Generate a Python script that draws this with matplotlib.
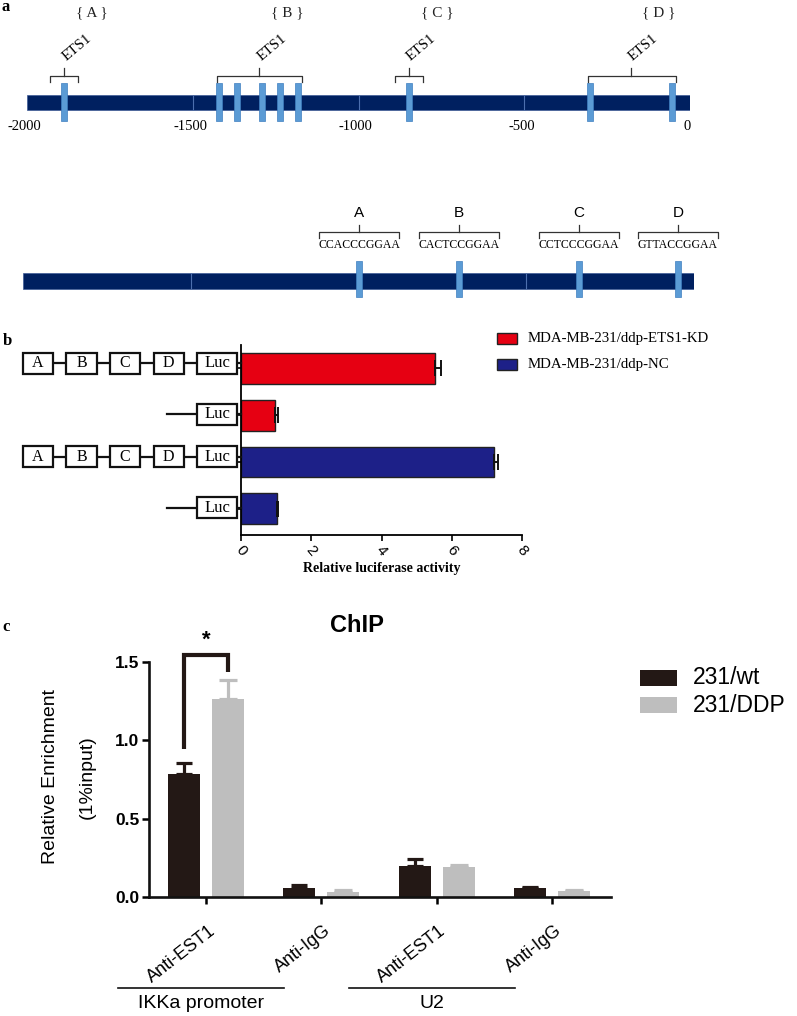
import matplotlib
matplotlib.use('Agg')
import matplotlib.pyplot as plt
import matplotlib.transforms as mtransforms
from matplotlib.patches import Rectangle
import numpy as np

W, H, DPI = 797, 1016, 100
SERIF = ['Liberation Serif', 'DejaVu Serif']
SANS = ['Liberation Sans', 'DejaVu Sans']

# ---------------- data ----------------
# panel a (top map): promoter positions (bp) and ETS1 binding sites
promoter_ticks = [-2000, -1500, -1000, -500, 0]
ets1_regions = ['A', 'B', 'C', 'D']
ets1_sites = {
    'A': [-1888],
    'B': [-1421, -1367, -1291, -1237, -1182],
    'C': [-848],
    'D': [-302, -54],
}
# panel a (bottom map): motif sites and sequences
motif_dividers = [-1500, -500]
motif_letters = ['A', 'B', 'C', 'D']
motif_sites = [-998, -700, -343, -48]
motif_seqs = ['CCACCCGGAA', 'CACTCCGGAA', 'CCTCCCGGAA', 'GTTACCGGAA']

# panel b: luciferase reporter
luc_constructs = [['A', 'B', 'C', 'D', 'Luc'], ['Luc'],
                  ['A', 'B', 'C', 'D', 'Luc'], ['Luc']]
luc_cells = ['MDA-MB-231/ddp-ETS1-KD', 'MDA-MB-231/ddp-ETS1-KD',
             'MDA-MB-231/ddp-NC', 'MDA-MB-231/ddp-NC']
luc_values = [5.53, 0.97, 7.20, 1.02]
luc_errors = [0.17, 0.09, 0.13, 0.04]
luc_legend = ['MDA-MB-231/ddp-ETS1-KD', 'MDA-MB-231/ddp-NC']
luc_ticks = [0, 2, 4, 6, 8]

# panel c: ChIP
chip_labels = ['Anti-EST1', 'Anti-IgG', 'Anti-EST1', 'Anti-IgG']
chip_groups = ['IKKa promoter', 'U2']
chip_group_members = [(0, 1), (2, 3)]
chip_series = ['231/wt', '231/DDP']
chip_wt = [0.785, 0.058, 0.198, 0.055]
chip_wt_err = [0.070, 0.017, 0.042, 0.012]
chip_ddp = [1.263, 0.035, 0.190, 0.040]
chip_ddp_err = [0.122, 0.010, 0.012, 0.006]
chip_yticks = [0.0, 0.5, 1.0, 1.5]

# ---------------- styles ----------------
NAVY = '#002060'
LBLUE = '#5b9bd5'
RED = '#e60012'
BLUE = '#1d2088'
CBLACK = '#231815'
CGRAY = '#bebebe'
cell_color = {luc_legend[0]: RED, luc_legend[1]: BLUE}
series_color = [CBLACK, CGRAY]

fig = plt.figure(figsize=(W / DPI, H / DPI), dpi=DPI)


def add_px_axes(x0, y0, x1, y1):
    return fig.add_axes([x0 / W, 1 - y1 / H, (x1 - x0) / W, (y1 - y0) / H])


# overlay for annotations in pixel coordinates (drawn on top)
ov = add_px_axes(0, 0, W, H)
ov.set_xlim(0, W)
ov.set_ylim(H, 0)
ov.axis('off')
ov.set_zorder(10)

for lab, (px, py) in zip(['a', 'b', 'c'], [(6, 7), (7, 341), (6, 627)]):
    ov.text(px, py, lab, ha='center', va='center', fontsize=12,
            fontweight='bold', family=SERIF)

# ---------------- panel a top ----------------
axA = add_px_axes(27, 0, 690, 140)
axA.set_xlim(promoter_ticks[0], promoter_ticks[-1])
axA.set_ylim(140, 0)
axA.axis('off')
axA.barh(102.5, promoter_ticks[-1] - promoter_ticks[0], left=promoter_ticks[0],
         height=15, color=NAVY, edgecolor='#3d5a96', linewidth=0.5)
axA.vlines(promoter_ticks[1:-1], 95, 110, color='#4d6fae', lw=0.8)
all_sites = [s for r in ets1_regions for s in ets1_sites[r]]
axA.bar(all_sites, 38, bottom=83, width=18, color=LBLUE,
        edgecolor='#3f7fc0', linewidth=0.5)
for t in promoter_ticks:
    axA.text(t - 8, 127, str(t), ha='center', va='center', fontsize=10.5,
             family=SERIF, clip_on=False)


def bracket(ax, x0, x1, xm, ytop, drop, rise, lw=0.9, color='#333333'):
    ax.plot([x0, x0, x1, x1], [ytop + drop, ytop, ytop, ytop + drop],
            color=color, lw=lw, clip_on=False, solid_joinstyle='round')
    ax.plot([xm, xm], [ytop, ytop - rise], color=color, lw=lw, clip_on=False)


for r in ets1_regions:
    s = ets1_sites[r]
    if len(s) == 1:
        x0, x1 = s[0] - 43, s[0] + 43
    else:
        x0, x1 = min(s) - 6, max(s) + 12
    xm = float(np.mean(s))
    bracket(axA, x0, x1, xm, 76, 6, 8)
    axA.text(xm + 38, 48, 'ETS1', rotation=40, ha='center', va='center',
             fontsize=10.5, family=SERIF, rotation_mode='anchor')
    axA.text(xm + 85, 13, '{ %s }' % r, ha='center', va='center',
             fontsize=11, family=SERIF, color='#222222')

# ---------------- panel a bottom ----------------
axA2 = add_px_axes(23, 195, 694, 310)
axA2.set_xlim(promoter_ticks[0], promoter_ticks[-1])
axA2.set_ylim(310, 195)
axA2.axis('off')
axA2.barh(281, promoter_ticks[-1] - promoter_ticks[0], left=promoter_ticks[0],
          height=16, color=NAVY, edgecolor='#3d5a96', linewidth=0.5)
axA2.vlines(motif_dividers, 273, 289, color='#4d6fae', lw=0.8)
axA2.bar(motif_sites, 36, bottom=261, width=18, color=LBLUE,
         edgecolor='#3f7fc0', linewidth=0.5)
for lab, s, seq in zip(motif_letters, motif_sites, motif_seqs):
    bracket(axA2, s - 120, s + 120, s, 232, 6, 7)
    axA2.text(s, 213, lab, ha='center', va='center', fontsize=11, family=SANS)
    axA2.text(s, 245, seq, ha='center', va='center', fontsize=8.5,
              family=SERIF, clip_on=False)

# ---------------- panel b ----------------
axL = add_px_axes(241, 345, 522, 535)
axL.set_xlim(luc_ticks[0], luc_ticks[-1])
axL.set_ylim(3.56, -0.5)
ypos = np.arange(len(luc_values))
bar_cols = [cell_color[c] for c in luc_cells]
axL.barh(ypos, luc_values, height=0.66, color=bar_cols, edgecolor='#222222',
         linewidth=1.0, zorder=2)
axL.errorbar(luc_values, ypos, xerr=[np.zeros(len(luc_errors)), luc_errors],
             fmt='none', ecolor='#111111', elinewidth=1.4, capsize=6,
             capthick=1.4, zorder=3)
for sp in ['top', 'right']:
    axL.spines[sp].set_visible(False)
for sp in ['left', 'bottom']:
    axL.spines[sp].set_linewidth(1.3)
axL.set_yticks(ypos)
axL.set_yticklabels([])
axL.tick_params(axis='y', length=3, width=1.2)
axL.set_xticks(luc_ticks)
axL.set_xticklabels([str(t) for t in luc_ticks], rotation=-50, fontsize=11,
                    family=SANS)
axL.tick_params(axis='x', length=4, width=1.2, pad=2)
axL.text(0.5, -0.174, 'Relative luciferase activity', transform=axL.transAxes,
         ha='center', va='center', fontsize=10, fontweight='bold', family=SERIF)

PXU = (522 - 241) / (luc_ticks[-1] - luc_ticks[0])


def bx(px):
    return (px - 241) / PXU


for i, elems in enumerate(luc_constructs):
    yc = i - (0.11 if len(elems) > 1 else 0.02)
    right = 237.0
    boxes = []
    for e in reversed(elems):
        w = 40 if e == 'Luc' else 30
        boxes.append((right - w, right, e))
        right = right - w - 13.5
    boxes = boxes[::-1]
    bh = 0.45
    for (x0, x1, e) in boxes:
        axL.add_patch(Rectangle((bx(x0), yc - bh / 2), bx(x1) - bx(x0), bh,
                                facecolor='white', edgecolor='#111111',
                                linewidth=1.6, clip_on=False, zorder=4))
        axL.text(bx((x0 + x1) / 2), yc, e, ha='center', va='center',
                 fontsize=12 if e == 'Luc' else 11.5, family=SERIF,
                 clip_on=False, zorder=5)
    segs = []
    for (a, b_) in zip(boxes[:-1], boxes[1:]):
        segs.append((a[1], b_[0]))
    segs.append((boxes[-1][1], 241))
    if len(elems) == 1:
        segs.append((boxes[0][0] - 30, boxes[0][0]))
    for (p0, p1) in segs:
        axL.plot([bx(p0), bx(p1)], [yc, yc], color='#111111', lw=1.6,
                 clip_on=False, zorder=3)

for k, lab in enumerate(luc_legend):
    y0 = 333 + 26 * k
    ov.add_patch(Rectangle((497, y0), 20, 11, facecolor=cell_color[lab],
                           edgecolor='#222222', linewidth=1.0))
    ov.text(528, y0 + 5.5, lab, ha='left', va='center', fontsize=10.7,
            family=SERIF)

# ---------------- panel c ----------------
axC = add_px_axes(149, 662, 611, 897)
n = len(chip_labels)
xc = np.arange(n)
axC.set_xlim(-0.494, n - 1 + 0.51)
axC.set_ylim(chip_yticks[0], chip_yticks[-1])
off, bw = 0.19, 0.277
for k, (vals, errs, cap) in enumerate([(chip_wt, chip_wt_err, 5.6),
                                       (chip_ddp, chip_ddp_err, 6.6)]):
    xs = xc + (off if k else -off)
    axC.bar(xs, vals, bw, color=series_color[k], edgecolor='none', zorder=2)
    axC.errorbar(xs, vals, yerr=[np.zeros(n), errs], fmt='none',
                 ecolor=series_color[k], elinewidth=2.3, capsize=cap,
                 capthick=2.3, zorder=2)
for sp in ['top', 'right']:
    axC.spines[sp].set_visible(False)
for sp in ['left', 'bottom']:
    axC.spines[sp].set_linewidth(1.9)
    axC.spines[sp].set_color('#111111')
axC.set_yticks(chip_yticks)
axC.set_yticklabels(['%.1f' % v for v in chip_yticks], fontsize=12.5,
                    fontweight='bold', family=SANS)
axC.tick_params(axis='y', length=5, width=1.8, pad=2)
axC.set_xticks(xc)
axC.set_xticklabels(chip_labels, rotation=38, ha='right', va='top',
                    rotation_mode='anchor', fontsize=13, family=SANS)
axC.tick_params(axis='x', length=5, width=1.8, pad=13)
shift = mtransforms.ScaledTranslation(0.02, 0, fig.dpi_scale_trans)
for lbl in axC.get_xticklabels():
    lbl.set_transform(lbl.get_transform() + shift)

# significance bracket
axC.plot([xc[0] - off, xc[0] - off, xc[0] + off, xc[0] + off],
         [0.944, 1.545, 1.545, 1.436], color=CBLACK, lw=3.0, clip_on=False,
         solid_joinstyle='miter', solid_capstyle='butt')
axC.text(xc[0], 1.64, '*', ha='center', va='center', fontsize=16,
         fontweight='bold', family=SANS, clip_on=False)

# group underlines
bt = mtransforms.blended_transform_factory(axC.transData, axC.transAxes)
for g, (i0, i1) in zip(chip_groups, chip_group_members):
    x0, x1 = xc[i0] - 0.76, xc[i1] - 0.32
    axC.plot([x0, x1], [-0.387, -0.387], color='#111111', lw=1.2,
             transform=bt, clip_on=False)
    axC.text((x0 + x1) / 2, -0.452, g, transform=bt, ha='center', va='center',
             fontsize=14, family=SANS, clip_on=False)

ov.text(357, 625, 'ChIP', ha='center', va='center', fontsize=17,
        fontweight='bold', family=SANS)
ov.text(51, 777, 'Relative Enrichment', rotation=90, ha='center', va='center',
        fontsize=14, family=SANS)
ov.text(87.5, 777, '(1%input)', rotation=90, ha='center', va='center',
        fontsize=14, family=SANS)
for k, lab in enumerate(chip_series):
    y0 = 670 + 27 * k
    ov.add_patch(Rectangle((640, y0), 37, 16, facecolor=series_color[k],
                           edgecolor='none'))
    ov.text(693, y0 + 8, lab, ha='left', va='center', fontsize=16.5,
            family=SANS)

fig.savefig('out.png', dpi=DPI)
